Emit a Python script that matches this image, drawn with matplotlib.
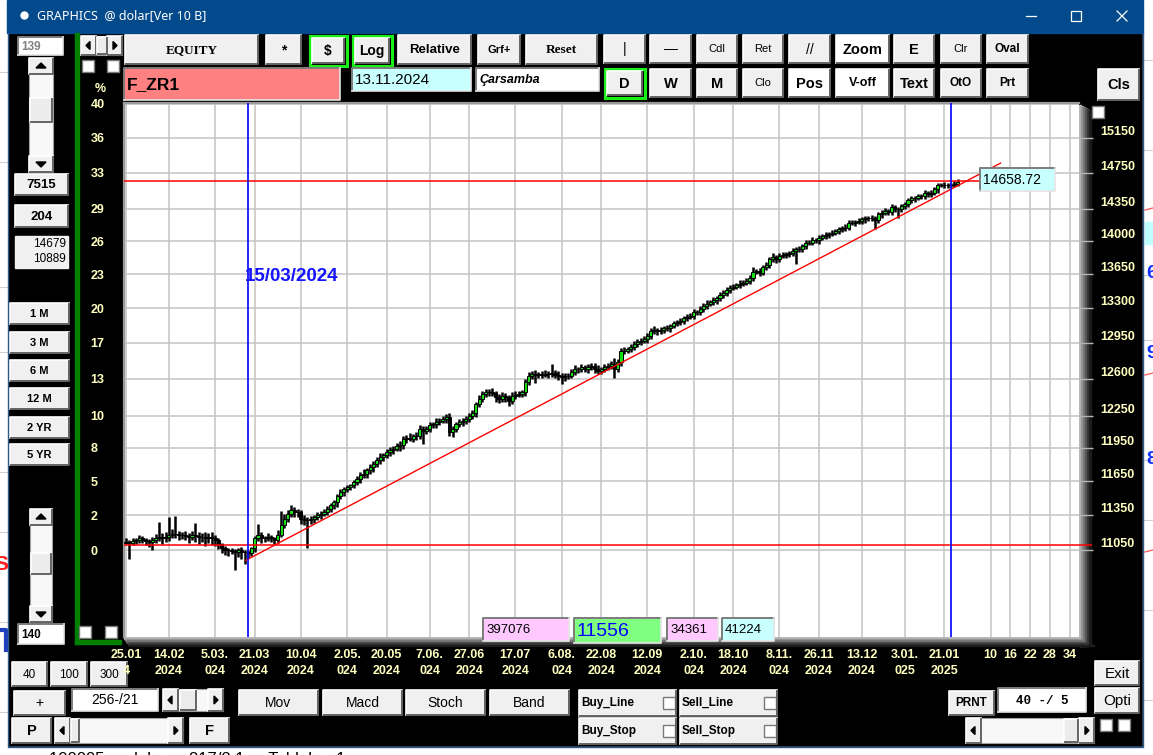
import matplotlib
matplotlib.use("Agg")  # no display
import matplotlib.pyplot as plt
from matplotlib.patches import Rectangle, Polygon
from matplotlib.ticker import NullLocator

plt.rcParams["font.family"] = ["Liberation Sans", "DejaVu Sans"]

W, H = 1153, 755
YELLOW = "#ffffc0"

# ---- values ----
# daily closes, bar 0 = 25.01.2024
close = [
    11120, 11112, 11129, 11135, 11150, 11140, 11129, 11120, 11135, 11150,
    11163, 11150, 11163, 11177, 11192, 11186, 11177, 11177, 11168, 11163,
    11177, 11168, 11163, 11163, 11150, 11163, 11150, 11135, 11100, 11065,
    11050, 11050, 11044, 11036, 11050, 11036, 11036, 11027, 11065, 11150,
    11177, 11150, 11150, 11163, 11150, 11135, 11177, 11263, 11320, 11364,
    11393, 11378, 11378, 11320, 11306, 11306, 11320, 11335, 11349, 11364,
    11378, 11407, 11436, 11462, 11515, 11550, 11577, 11594, 11612, 11642,
    11672, 11702, 11717, 11746, 11776, 11806, 11836, 11866, 11881, 11911,
    11927, 11943, 11964, 11973, 12034, 12043, 12034, 12055, 12064, 12126,
    12110, 12126, 12157, 12172, 12187, 12203, 12219, 12234, 12094, 12126,
    12172, 12187, 12203, 12219, 12250, 12269, 12360, 12407, 12454, 12470,
    12470, 12460, 12422, 12407, 12438, 12422, 12391, 12438, 12448, 12454,
    12470, 12566, 12630, 12646, 12640, 12646, 12640, 12646, 12646, 12652,
    12640, 12630, 12614, 12625, 12630, 12662, 12694, 12694, 12710, 12694,
    12710, 12726, 12694, 12678, 12694, 12717, 12726, 12743, 12694, 12759,
    12873, 12873, 12890, 12913, 12939, 12956, 12972, 12989, 13022, 13064,
    13078, 13064, 13078, 13098, 13098, 13121, 13144, 13154, 13171, 13198,
    13211, 13221, 13255, 13255, 13289, 13323, 13346, 13357, 13381, 13402,
    13435, 13459, 13483, 13510, 13518, 13538, 13552, 13562, 13580, 13614,
    13677, 13684, 13666, 13726, 13747, 13807, 13831, 13807, 13841, 13852,
    13859, 13876, 13894, 13912, 13912, 13947, 13983, 13983, 14008, 14008,
    14036, 14054, 14065, 14079, 14090, 14108, 14126, 14143, 14143, 14198,
    14198, 14208, 14216, 14234, 14245, 14252, 14245, 14223, 14288, 14306,
    14325, 14317, 14369, 14343, 14343, 14380, 14398, 14443, 14465, 14472,
    14490, 14490, 14527, 14509, 14527, 14564, 14612, 14619, 14612, 14612,
    14619, 14626, 14648,
]
first_open = 11115
# wick length above / below each candle body
hi_ext = [
    30, 20, 25, 20, 30, 20, 15, 20, 25, 35,
    125, 30, 40, 160, 40, 150, 30, 25, 35, 30,
    40, 105, 40, 35, 40, 35, 40, 30, 20, 15,
    20, 15, 20, 15, 20, 25, 20, 15, 15, 20,
    100, 25, 20, 30, 20, 15, 45, 120, 40, 35,
    45, 30, 25, 20, 30, 30, 25, 20, 25, 20,
    30, 25, 20, 25, 20, 30, 25, 20, 15, 20,
    22, 32, 38, 25, 28, 22, 34, 36, 24, 30,
    28, 22, 32, 38, 24, 30, 42, 22, 28, 36,
    30, 24, 32, 22, 38, 28, 24, 30, 36, 28,
    22, 32, 25, 28, 24, 32, 22, 38, 30, 34,
    28, 42, 24, 30, 36, 28, 22, 30, 34, 28,
    24, 30, 36, 28, 40, 22, 32, 34, 28, 95,
    34, 30, 24, 32, 22, 28, 36, 24, 30, 22,
    32, 24, 28, 36, 22, 30, 24, 32, 55, 28,
    24, 32, 22, 30, 26, 34, 22, 28, 24, 32,
    36, 22, 28, 24, 32, 22, 30, 26, 32, 22,
    28, 24, 34, 22, 30, 24, 32, 22, 28, 26,
    30, 22, 32, 24, 28, 22, 34, 26, 30, 22,
    50, 24, 32, 22, 28, 24, 38, 22, 32, 26,
    28, 22, 32, 24, 30, 22, 28, 26, 32, 22,
    30, 24, 28, 22, 32, 24, 30, 22, 36, 24,
    28, 24, 32, 22, 30, 24, 28, 22, 32, 26,
    30, 22, 34, 24, 28, 22, 32, 24, 30, 22,
    28, 24, 36, 22, 30, 24, 28, 22, 32, 24,
    22, 30, 28,
]
lo_ext = [
    15, 140, 20, 25, 20, 30, 35, 40, 70, 25,
    20, 50, 30, 35, 25, 30, 40, 35, 30, 55,
    25, 45, 60, 45, 60, 40, 55, 50, 40, 35,
    40, 45, 30, 150, 40, 60, 103, 45, 25, 30,
    25, 40, 30, 25, 30, 30, 20, 15, 20, 25,
    30, 40, 45, 50, 40, 240, 35, 40, 30, 35,
    25, 30, 25, 35, 40, 25, 30, 25, 20, 25,
    30, 40, 25, 35, 30, 40, 25, 30, 35, 25,
    35, 30, 25, 40, 30, 35, 25, 30, 35, 30,
    120, 35, 30, 25, 35, 30, 25, 35, 30, 40,
    30, 25, 35, 30, 25, 30, 35, 30, 25, 30,
    35, 30, 40, 35, 30, 40, 50, 35, 30, 25,
    30, 35, 25, 30, 80, 35, 30, 25, 35, 30,
    35, 40, 64, 35, 30, 25, 30, 35, 25, 30,
    35, 30, 40, 35, 30, 25, 30, 35, 86, 30,
    35, 30, 25, 30, 35, 25, 30, 25, 35, 30,
    25, 35, 30, 25, 30, 35, 25, 30, 25, 35,
    30, 25, 35, 30, 25, 30, 35, 25, 30, 35,
    25, 30, 35, 25, 30, 25, 35, 30, 25, 30,
    35, 30, 40, 25, 30, 35, 25, 40, 30, 25,
    30, 25, 35, 140, 30, 25, 35, 30, 25, 30,
    35, 25, 30, 35, 25, 30, 35, 25, 30, 25,
    30, 35, 25, 30, 35, 25, 30, 97, 30, 35,
    25, 35, 30, 25, 90, 30, 35, 25, 30, 35,
    25, 30, 35, 30, 25, 30, 35, 25, 30, 35,
    25, 30, 25,
]

grid_bars = [0, 13, 27, 39, 53, 67, 79, 92, 104, 118, 132, 144, 158, 172, 184, 198, 210, 223, 236, 248]
date_day = ["25.01", "14.02", "5.03.", "21.03", "10.04", "2.05.", "20.05", "7.06.", "27.06", "17.07",
            "6.08.", "22.08", "12.09", "2.10.", "18.10", "8.11.", "26.11", "13.12", "3.01.", "21.01"]
date_year = ["4", "2024", "024", "2024", "2024", "024", "2024", "024", "2024", "2024",
             "024", "2024", "2024", "024", "2024", "024", "2024", "2024", "025", "2025"]
bars_ahead = [10, 16, 22, 28, 34]
price_grid = [11050, 11350, 11650, 11950, 12250, 12600, 12950, 13300, 13650, 14000, 14350, 14750, 15150, 15550]
pct_labels = ["0", "2", "5", "8", "10", "13", "17", "20", "23", "26", "29", "33", "36", "40"]
base_level = 11098
last_level = 14658.72
trend_bars = [36.3, 265]
trend_prices = [10965, 14860]
marker_bars = [37, 250]
marker_label = "15/03/2024"


# ---- little widget helpers (pixel coords, y down) ----
def raised(a, x0, y0, x1, y1, text="", face="#f0f0f0", size=9, weight="bold",
           family="Liberation Sans", color="black", frame=None, style="normal"):
    a.add_patch(Rectangle((x0, y0), x1 - x0, y1 - y0, facecolor=face, edgecolor="none"))
    a.plot([x0, x0, x1], [y1, y0, y0], color="white", lw=1.2)
    a.plot([x0 + 0.5, x1, x1], [y1, y1, y0 + 0.5], color="#646464", lw=1.4)
    if frame:
        a.add_patch(Rectangle((x0 - 2.5, y0 - 2.5), x1 - x0 + 5, y1 - y0 + 5,
                              fill=False, edgecolor=frame, lw=2.2))
    if text:
        a.text((x0 + x1) / 2, (y0 + y1) / 2 + 0.5, text, ha="center", va="center",
               fontsize=size, fontweight=weight, family=family, color=color, style=style)


def sunken(a, x0, y0, x1, y1, text="", face="white", size=9, weight="normal",
           family="Liberation Sans", color="black", align="left", style="normal"):
    a.add_patch(Rectangle((x0, y0), x1 - x0, y1 - y0, facecolor=face, edgecolor="none"))
    a.plot([x0, x0, x1], [y1, y0, y0], color="#7c7c7c", lw=1.4)
    a.plot([x0, x1, x1], [y1, y1, y0], color="#e4e4e4", lw=1.2)
    if text:
        tx, ha = {"left": (x0 + 3, "left"), "right": (x1 - 3, "right"),
                  "center": ((x0 + x1) / 2, "center")}[align]
        a.text(tx, (y0 + y1) / 2 + 0.5, text, ha=ha, va="center", fontsize=size,
               fontweight=weight, family=family, color=color, style=style)


def checkbox(a, x0, y0, s=12):
    a.add_patch(Rectangle((x0, y0), s, s, facecolor="white", edgecolor="#7a7a7a", lw=1))


def hscroll(a, x0, y0, x1, y1, t0, t1):
    a.add_patch(Rectangle((x0, y0), x1 - x0, y1 - y0, facecolor="#f8f8f8", edgecolor="#a0a0a0", lw=0.8))
    aw = 15
    raised(a, x0, y0, x0 + aw, y1)
    raised(a, x1 - aw, y0, x1, y1)
    raised(a, t0, y0 + 1, t1, y1 - 1, face="#ececec")
    cy = (y0 + y1) / 2
    a.add_patch(Polygon([(x0 + 5, cy), (x0 + 9, cy - 4), (x0 + 9, cy + 4)], color="black"))
    a.add_patch(Polygon([(x1 - 5, cy), (x1 - 9, cy - 4), (x1 - 9, cy + 4)], color="black"))


def vscroll(a, x0, y0, x1, y1, t0, t1):
    a.add_patch(Rectangle((x0, y0), x1 - x0, y1 - y0, facecolor="#f8f8f8", edgecolor="#a0a0a0", lw=0.8))
    ah = 16
    raised(a, x0, y0, x1, y0 + ah)
    raised(a, x0, y1 - ah, x1, y1)
    raised(a, x0 + 1, t0, x1 - 1, t1, face="#ececec")
    cx = (x0 + x1) / 2
    a.add_patch(Polygon([(cx, y0 + 5), (cx - 5, y0 + 10), (cx + 5, y0 + 10)], color="black"))
    a.add_patch(Polygon([(cx, y1 - 5), (cx - 5, y1 - 10), (cx + 5, y1 - 10)], color="black"))


fig = plt.figure(figsize=(W / 100, H / 100), dpi=100, facecolor="black")
bg = fig.add_axes([0, 0, 1, 1], zorder=0)
fg = fig.add_axes([0, 0, 1, 1], zorder=3)
for a in (bg, fg):
    a.set_xlim(0, W)
    a.set_ylim(H, 0)
    a.axis("off")

# ---- window chrome (with a sliver of the window behind) ----
bg.add_patch(Rectangle((0, 0), 7, H, color="white"))
bg.add_patch(Rectangle((1143, 0), 10, H, color="white"))
bg.add_patch(Rectangle((0, 747), W, 8, color="white"))
for yy in (60, 150, 275, 340, 460, 520, 610, 700):
    bg.plot([1144, 1153], [yy, yy], color="#d0d0d0", lw=0.8)
    bg.plot([0, 7], [yy + 12, yy + 12], color="#d0d0d0", lw=0.8)
bg.add_patch(Rectangle((1145, 222), 8, 22, color="#c0ffff"))
for yy, ch in ((273, "6"), (353, "9"), (460, "8")):
    bg.text(1146, yy, ch, color="#1030ff", fontsize=14, fontweight="bold", va="center")
for yy in (210, 375, 552):
    bg.plot([1145, 1153], [yy, yy - 2], color="#ff6060", lw=1)
bg.text(-6, 565, "S", color="#ff2020", fontsize=15, fontweight="bold", va="center")
bg.plot([1, 6, 6], [630, 630, 650], color="#2040c0", lw=3)
bg.text(30, 760, "+  100005  ·  dolar  :  817/2.1  ·  Tablolar  1", color="black", fontsize=12, va="center")

bg.add_patch(Rectangle((7, 0), 1136, 33, color="#034a8c"))
bg.plot([24], [15], marker="o", ms=5, color="white")
bg.text(37, 16, "GRAPHICS  @ dolar[Ver 10 B]", color="white", fontsize=9, family="Noto Sans", va="center")
bg.plot([1026, 1036], [16, 16], color="white", lw=0.9)
bg.add_patch(Rectangle((1071, 11), 10, 10, fill=False, edgecolor="white", lw=0.9))
bg.plot([1117, 1127], [11, 21], color="white", lw=0.9)
bg.plot([1117, 1127], [21, 11], color="white", lw=0.9)
bg.plot([7.5, 7.5, 1142.5, 1142.5], [33, 747, 747, 33], color="#2c5a8c", lw=1)

# green frame of the chart panel
bg.add_patch(Rectangle((75, 33), 4, 611, color="#008000"))
bg.add_patch(Rectangle((75, 640), 46, 4, color="#008000"))

# ---- top tool rows ----
sunken(bg, 18, 37, 63, 55, "139", size=8.5, weight="bold", color="#808080")
hscroll(bg, 81, 36, 122, 55, 97, 107)
checkbox(bg, 82, 60)
checkbox(bg, 107, 60)
raised(bg, 125, 35, 258, 64, "EQUITY", family="Liberation Serif", size=9.5)
raised(bg, 266, 35, 301, 64, "*", size=10)
raised(bg, 312, 38, 344, 63, "$", size=10, frame="#18f018")
raised(bg, 355, 38, 389, 63, "Log", size=10, frame="#18f018")
raised(bg, 398, 35, 471, 64, "Relative", size=9.5)
raised(bg, 478, 35, 520, 64, "Grf+", size=8)
raised(bg, 526, 35, 597, 64, "Reset", family="Liberation Serif", size=9.5)
raised(bg, 604, 35, 645, 63, "|", size=10, weight="normal")
raised(bg, 650, 35, 691, 63, "—", size=10, weight="normal")
raised(bg, 697, 35, 737, 63, "Cdl", size=8, weight="normal")
raised(bg, 743, 35, 783, 63, "Ret", size=8, weight="normal")
raised(bg, 789, 35, 830, 63, "//", size=10, weight="normal")
raised(bg, 836, 35, 889, 63, "Zoom", face="white", size=10.5)
raised(bg, 894, 35, 934, 63, "E", size=10.5)
raised(bg, 941, 35, 981, 63, "Clr", size=8, weight="normal")
raised(bg, 987, 35, 1028, 63, "Oval", size=8.5)

sunken(bg, 124, 68, 340, 100, "F_ZR1", face="#ff8080", size=12.5, weight="bold")
sunken(bg, 352, 68, 471, 91, "13.11.2024", face="#c8ffff", size=11)
sunken(bg, 476, 68, 599, 91, "Çarsamba", size=9, weight="bold", style="italic")
raised(bg, 607, 71, 642, 95, "D", size=10.5, frame="#18f018")
raised(bg, 650, 69, 691, 97, "W", size=10.5)
raised(bg, 697, 69, 737, 97, "M", size=10.5)
raised(bg, 743, 69, 783, 97, "Clo", size=8, weight="normal")
raised(bg, 789, 69, 830, 97, "Pos", face="white", size=10.5)
raised(bg, 836, 69, 889, 97, "V-off", face="white", size=9)
raised(bg, 894, 69, 934, 97, "Text", size=10.5)
raised(bg, 941, 69, 981, 97, "OtO", size=8.5)
raised(bg, 987, 69, 1028, 97, "Prt", size=8.5)
raised(bg, 1098, 69, 1139, 100, "Cls", size=10.5)

# ---- left panel ----
vscroll(bg, 29, 58, 53, 172, 98, 122)
raised(bg, 15, 174, 68, 195, "7515", size=9.5)
raised(bg, 15, 205, 68, 227, "204", size=9.5)
bg.add_patch(Rectangle((15, 236), 53, 32, color="#f0f0f0"))
bg.text(66, 244, "14679", ha="right", va="center", fontsize=8.5)
bg.text(66, 259, "10889", ha="right", va="center", fontsize=8.5)
for lab, y0 in (("1 M", 303), ("3 M", 332), ("6 M", 360), ("12 M", 388), ("2 YR", 417), ("5 YR", 444)):
    raised(bg, 10, y0, 69, y0 + 21, lab, size=8)
vscroll(bg, 30, 509, 52, 622, 553, 574)
sunken(bg, 18, 624, 64, 644, "140", size=8.5, weight="bold")
checkbox(bg, 79, 626)
checkbox(bg, 105, 626)
bg.text(100, 89, "%", color=YELLOW, fontsize=9, fontweight="bold", ha="center", va="center")

# ---- bottom rows ----
raised(bg, 12, 662, 47, 686, "40", size=8.5, weight="normal")
raised(bg, 51, 662, 87, 686, "100", size=8.5, weight="normal")
raised(bg, 91, 662, 127, 686, "300", size=8.5, weight="normal")
raised(bg, 14, 691, 65, 715, "+", size=10, weight="normal")
sunken(bg, 72, 689, 158, 711, "256-/21", size=10, align="center")
hscroll(bg, 163, 689, 223, 711, 180, 196)
raised(bg, 12, 718, 51, 743, "P", size=10.5)
hscroll(bg, 55, 718, 183, 743, 71, 79)
raised(bg, 190, 718, 229, 743, "F", size=10.5)
for lab, x0 in (("Mov", 239), ("Macd", 323), ("Stoch", 406), ("Band", 490)):
    raised(bg, x0, 690, x0 + 79, 715, lab, size=10, weight="normal")
for lab, x0, y0 in (("Buy_Line", 579, 690), ("Buy_Stop", 579, 718),
                    ("Sell_Line", 680, 690), ("Sell_Stop", 680, 718)):
    raised(bg, x0, y0, x0 + 97, y0 + 26)
    bg.text(x0 + 2, y0 + 13, lab, ha="left", va="center", fontsize=8.5, fontweight="bold")
    checkbox(bg, x0 + 84, y0 + 7)
raised(bg, 949, 691, 994, 715, "PRNT", size=8.5)
sunken(bg, 998, 688, 1086, 712, "40 -/ 5", size=9, weight="bold", family="Liberation Mono", align="center")
raised(bg, 1095, 661, 1139, 685, "Exit", size=11, weight="normal")
raised(bg, 1095, 688, 1139, 713, "Opti", size=11, weight="normal")
hscroll(bg, 966, 718, 1094, 743, 1064, 1078)
checkbox(bg, 1100, 719)
checkbox(bg, 1118, 719)

# chart frame shadow
shade = ["#b8b8b8", "#989898", "#787878", "#585858", "#383838", "#1c1c1c"]
for k, c in enumerate(shade):
    bg.add_patch(Rectangle((1079 + 2 * k, 105 + k), 2.2, 541 - k, color=c))
    bg.add_patch(Rectangle((124 + k, 637 + 1.5 * k), 955 + 2 * k, 1.7, color=c))
checkbox(bg, 1092, 106)

# ---- the chart ----
ax = fig.add_axes([124 / W, 1 - 637 / H, 955 / W, 534 / H], zorder=1)
ax.set_facecolor("white")
ax.set_yscale("log")

n = len(close)
bars = list(range(n))
opens = [first_open] + close[:-1]
tops = [max(o, c) for o, c in zip(opens, close)]
bots = [min(o, c) for o, c in zip(opens, close)]
highs = [t + e for t, e in zip(tops, hi_ext)]
lows = [b - e for b, e in zip(bots, lo_ext)]
body_colors = ["#14e014" if c >= o else "black" for o, c in zip(opens, close)]

ax.vlines(bars, lows, highs, color="black", lw=1.8, zorder=3)
ax.bar(bars, [c - o for o, c in zip(opens, close)], bottom=opens, width=0.95,
       color=body_colors, edgecolor="black", linewidth=0.7, zorder=4)

ax.hlines(base_level, -0.6, 292.8, color="#ff0000", lw=1.1, zorder=5, clip_on=False)
ax.hlines(last_level, -0.6, 258.8, color="#ff0000", lw=1.1, zorder=5)
ax.plot(trend_bars, trend_prices, color="#ff0000", lw=1.0, zorder=5)
for b in marker_bars:
    ax.axvline(b, color="#0000ff", lw=1.2, zorder=5)
ax.text(36.1, 13620, marker_label, color="#1414ff", fontsize=13.5, fontweight="bold",
        ha="left", va="center", zorder=6)

ax.set_xlim(-0.6, 288.8)
ax.set_ylim(10340, 15560)

# two rows of date labels: day.month on the axis, the year on a second axis below it
x_ticks = grid_bars + [n - 1 + a for a in bars_ahead]
ax.set_xticks(x_ticks, labels=date_day + [str(a) for a in bars_ahead],
              color=YELLOW, fontsize=9, fontweight="bold")
ax.tick_params(axis="x", length=0, pad=8.5)
years = ax.secondary_xaxis("bottom")
years.set_xticks(grid_bars, labels=date_year, color=YELLOW, fontsize=9, fontweight="bold")
years.tick_params(axis="x", length=0, pad=20)
years.spines["bottom"].set_visible(False)

ax.set_yticks(price_grid, labels=pct_labels, ha="left", color=YELLOW, fontsize=9, fontweight="bold")
ax.yaxis.set_minor_locator(NullLocator())
ax.tick_params(axis="y", length=0, pad=24)
ax.grid(True, color="#c4c4c4", lw=1.1)
ax.set_axisbelow(True)
for side in ("right", "bottom"):
    ax.spines[side].set_visible(False)
for side in ("left", "top"):
    ax.spines[side].set_color("#9a9a9a")
    ax.spines[side].set_linewidth(1.6)

ax2 = ax.twinx()
ax2.set_yscale("log")
ax2.set_ylim(ax.get_ylim())
ax2.set_yticks(price_grid[:-1], labels=[str(p) for p in price_grid[:-1]], va="bottom",
               color=YELLOW, fontsize=9, fontweight="bold")
ax2.yaxis.set_minor_locator(NullLocator())
ax2.tick_params(axis="y", length=10, width=1, color="#b4b4b4", pad=5)
for s in ax2.spines.values():
    s.set_visible(False)

# value boxes laid over the chart
sunken(fg, 980, 168, 1055, 191, f"{last_level:.2f}", face="#c8ffff", size=10)
sunken(fg, 483, 618, 569, 641, "397076", face="#ffc8ff", size=9.5)
sunken(fg, 574, 618, 661, 643, "11556", face="#80ff80", size=14, color="#0000ff")
sunken(fg, 667, 618, 718, 641, "34361", face="#ffc8ff", size=9.5)
sunken(fg, 722, 618, 774, 641, "41224", face="#c8ffff", size=9.5)

fig.savefig("out.png", dpi=100, facecolor="black")
plt.close(fig)
